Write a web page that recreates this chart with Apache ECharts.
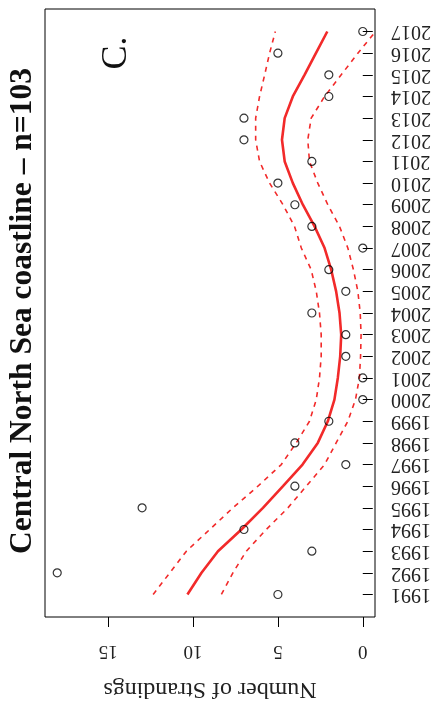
<!DOCTYPE html>
<html>
<head>
<meta charset="utf-8">
<script src="https://cdn.jsdelivr.net/npm/echarts@6/dist/echarts.min.js"></script>
<style>html,body{margin:0;padding:0;background:#fff;}#chart{width:435px;height:708px;}</style>
</head>
<body>
<div id="chart"></div>
<script>
var years = [1991,1992,1993,1994,1995,1996,1997,1998,1999,2000,2001,2002,2003,2004,2005,2006,2007,2008,2009,2010,2011,2012,2013,2014,2015,2016,2017];
var strandings = [5,18,3,7,13,4,1,4,2,0,0,1,1,3,1,2,0,3,4,5,3,7,7,2,2,5,0];
var fitted = [10.33,9.5,8.53,7.15,5.88,4.7,3.55,2.65,2.06,1.67,1.47,1.33,1.27,1.37,1.57,1.86,2.25,2.84,3.53,4.12,4.6,4.76,4.6,4.12,3.43,2.76,2.09];
var upperCI = [12.35,11.37,10.39,9.02,7.65,6.18,4.8,3.92,3.14,2.74,2.55,2.45,2.45,2.55,2.74,3.04,3.62,4.02,4.7,5.49,6.08,6.31,6.31,6.08,5.78,5.49,5.15];
var lowerCI = [8.33,7.65,6.86,5.69,4.41,3.33,2.25,1.57,0.88,0.43,0.2,0.13,0.1,0.15,0.29,0.55,0.88,1.37,2.06,2.65,3.14,3.24,3.04,2.25,1.27,0.29,-0.75];
var valueTicks = [0,5,10,15];
var titleText = 'Central North Sea coastline \u2013 n=103';
var panelLabel = 'C.';
var axisTitle = 'Number of Strandings';

function pairs(vals){ return vals.map(function(v,i){ return [v, years[i]]; }); }

var serif = '"Liberation Serif","DejaVu Serif",serif';
var red = '#f22a2a';
var chart = echarts.init(document.getElementById('chart'), null, {renderer:'canvas'});
chart.setOption({
  animation:false,
  backgroundColor:'#fff',
  grid:{left:45,right:60,top:9,bottom:91,show:true,borderColor:'#000',borderWidth:1,outerBoundsMode:'none',containLabel:false},
  xAxis:{
    type:'value', inverse:true, min:-0.72, max:18.72, position:'bottom',
    splitLine:{show:false},
    axisLine:{show:false},
    axisTick:{show:true,inside:false,length:10,lineStyle:{color:'#000',width:1},customValues:valueTicks},
    axisLabel:{show:true,rotate:180,margin:24,fontFamily:serif,fontSize:19,color:'#222',customValues:valueTicks},
    name:axisTitle, nameLocation:'middle', nameGap:60, nameRotate:180,
    nameTextStyle:{fontFamily:serif,fontSize:24,color:'#222'}
  },
  yAxis:{
    type:'value', min:1989.96, max:2018.04, position:'right',
    splitLine:{show:false},
    axisLine:{show:false},
    axisTick:{show:true,inside:false,length:10,lineStyle:{color:'#000',width:1},customValues:years},
    axisLabel:{show:true,rotate:180,margin:16,fontFamily:serif,fontSize:20,color:'#222',customValues:years,formatter:function(v){return String(v);}}
  },
  series:[
    {type:'line',data:pairs(upperCI),showSymbol:false,symbol:'none',clip:true,lineStyle:{color:red,width:1.6,type:[5,5]},z:2},
    {type:'line',data:pairs(lowerCI),showSymbol:false,symbol:'none',clip:true,lineStyle:{color:red,width:1.6,type:[5,5]},z:2},
    {type:'line',data:pairs(fitted),showSymbol:false,symbol:'none',clip:true,lineStyle:{color:red,width:2.6},z:3},
    {type:'scatter',data:pairs(strandings),symbol:'circle',symbolSize:8,itemStyle:{color:'rgba(255,255,255,0)',borderColor:'#000',borderWidth:1.2},z:4}
  ],
  graphic:[
    {type:'text',x:23,y:311,rotation:Math.PI/2,style:{text:titleText,font:'bold 31.5px '+serif,fill:'#111',align:'center',verticalAlign:'middle'}},
    {type:'text',x:117,y:53,rotation:Math.PI/2,style:{text:panelLabel,font:'36px '+serif,fill:'#111',align:'center',verticalAlign:'middle'}}
  ]
});
</script>
</body>
</html>
